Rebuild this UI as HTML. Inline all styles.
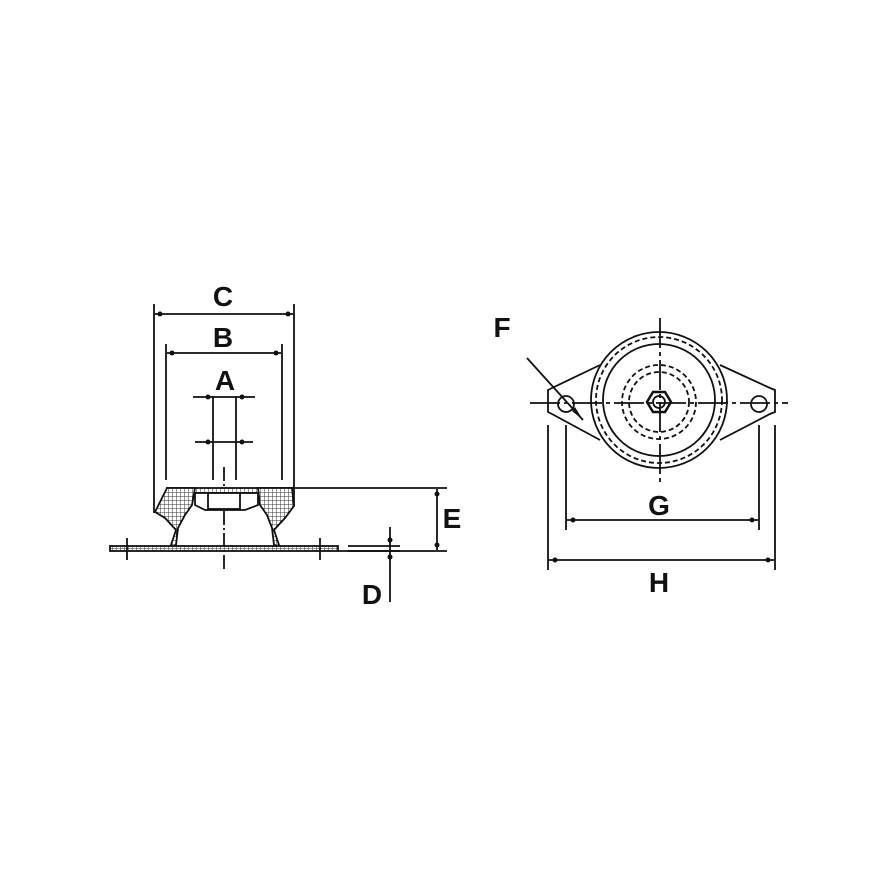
<!DOCTYPE html>
<html><head><style>html,body{margin:0;padding:0;background:#fff}svg{display:block}</style></head><body>
<svg width="887" height="887" viewBox="0 0 887 887" xmlns="http://www.w3.org/2000/svg">
<defs>
<pattern id="h" width="4" height="4" patternUnits="userSpaceOnUse"><rect width="4" height="4" fill="#fff"/><path d="M0 0H4M0 0V4" stroke="#333" stroke-width="1"/></pattern>
</defs>
<g stroke="#111" stroke-width="1.8" fill="none">
<!-- C -->
<line x1="154" y1="304" x2="154" y2="513"/><line x1="294" y1="304" x2="294" y2="506"/>
<line x1="155" y1="314" x2="293" y2="314"/>
<!-- B -->
<line x1="166" y1="344" x2="166" y2="480"/><line x1="282" y1="344" x2="282" y2="480"/>
<line x1="167" y1="353" x2="281" y2="353"/>
<!-- A -->
<line x1="193" y1="397" x2="255" y2="397"/><line x1="195" y1="442" x2="253" y2="442"/>
<line x1="213" y1="396" x2="213" y2="480"/><line x1="236" y1="396" x2="236" y2="480"/>
<line x1="224" y1="467" x2="224" y2="572" stroke-dasharray="14 3 2 3"/>
<!-- mount -->
<rect x="167" y="488" width="125" height="5" fill="url(#h)"/>
<path d="M167 488 L195 488 L192 505 L185 515 L178 528 L176 545 L170 548 L176 530 L165 518 L155 512 Z" fill="url(#h)"/>
<path d="M292 488 L258 488 L260 505 L267 515 L272 528 L274 545 L280 548 L274 530 L285 518 L294 506 Z" fill="url(#h)"/>
<path d="M195 493 L195 505 L205 510 L245 510 L258 505 L258 493"/>
<rect x="208" y="493" width="32" height="16" fill="#fff"/>
<rect x="110" y="546" width="228" height="5" fill="url(#h)"/>
<line x1="127" y1="538" x2="127" y2="560"/><line x1="320" y1="538" x2="320" y2="560"/>
<!-- E -->
<line x1="292" y1="488" x2="447" y2="488"/><line x1="338" y1="551" x2="447" y2="551"/>
<line x1="437" y1="489" x2="437" y2="550"/>
<!-- D -->
<line x1="348" y1="546" x2="400" y2="546"/><line x1="348" y1="551" x2="400" y2="551"/>
<line x1="390" y1="527" x2="390" y2="602"/>
<!-- right view -->
<path d="M600 365 L552 388 L548 390 L548 412 L552 414 L600 440"/>
<path d="M720 365 L770 388 L775 390 L775 412 L770 414 L720 440"/>
<circle cx="659" cy="400" r="68" fill="#fff"/>
<circle cx="659" cy="400" r="63" stroke-dasharray="5 3"/>
<circle cx="659" cy="400" r="56"/>
<circle cx="659" cy="402" r="37" stroke-dasharray="5 3"/>
<circle cx="659" cy="402" r="30" stroke-dasharray="5 3"/>
<polygon points="671,402 665,412 653,412 647,402 653,392 665,392" stroke-width="2.5"/>
<circle cx="659" cy="402" r="6"/>
<circle cx="566" cy="404" r="8"/><circle cx="759" cy="404" r="8"/>
<line x1="530" y1="403" x2="788" y2="403" stroke-dasharray="30 4 4 4"/>
<line x1="660" y1="318" x2="660" y2="483" stroke-dasharray="30 4 4 4"/>
<line x1="527" y1="358" x2="583" y2="420"/>
<!-- G H -->
<line x1="566" y1="425" x2="566" y2="530"/><line x1="759" y1="425" x2="759" y2="530"/>
<line x1="567" y1="520" x2="758" y2="520"/>
<line x1="548" y1="425" x2="548" y2="570"/><line x1="775" y1="425" x2="775" y2="570"/>
<line x1="549" y1="560" x2="774" y2="560"/>
</g>
<g fill="#111">
<circle cx="160" cy="314" r="2.5"/><circle cx="288" cy="314" r="2.5"/>
<circle cx="172" cy="353" r="2.5"/><circle cx="276" cy="353" r="2.5"/>
<circle cx="208" cy="397" r="2.5"/><circle cx="242" cy="397" r="2.5"/>
<circle cx="208" cy="442" r="2.5"/><circle cx="242" cy="442" r="2.5"/>
<circle cx="437" cy="494" r="2.5"/><circle cx="437" cy="545" r="2.5"/>
<circle cx="390" cy="540" r="2.5"/><circle cx="390" cy="557" r="2.5"/>
<circle cx="573" cy="520" r="2.5"/><circle cx="752" cy="520" r="2.5"/>
<circle cx="555" cy="560" r="2.5"/><circle cx="768" cy="560" r="2.5"/>
<polygon points="583,420 575,407 572,411"/>
</g>
<g font-family="Liberation Sans, sans-serif" font-weight="bold" font-size="28" fill="#111" text-anchor="middle">
<text x="223" y="306">C</text><text x="223" y="347">B</text><text x="225" y="390">A</text>
<text x="452" y="528">E</text><text x="372" y="604">D</text>
<text x="502" y="337">F</text><text x="659" y="515">G</text><text x="659" y="592">H</text>
</g>
</svg>
</body></html>
